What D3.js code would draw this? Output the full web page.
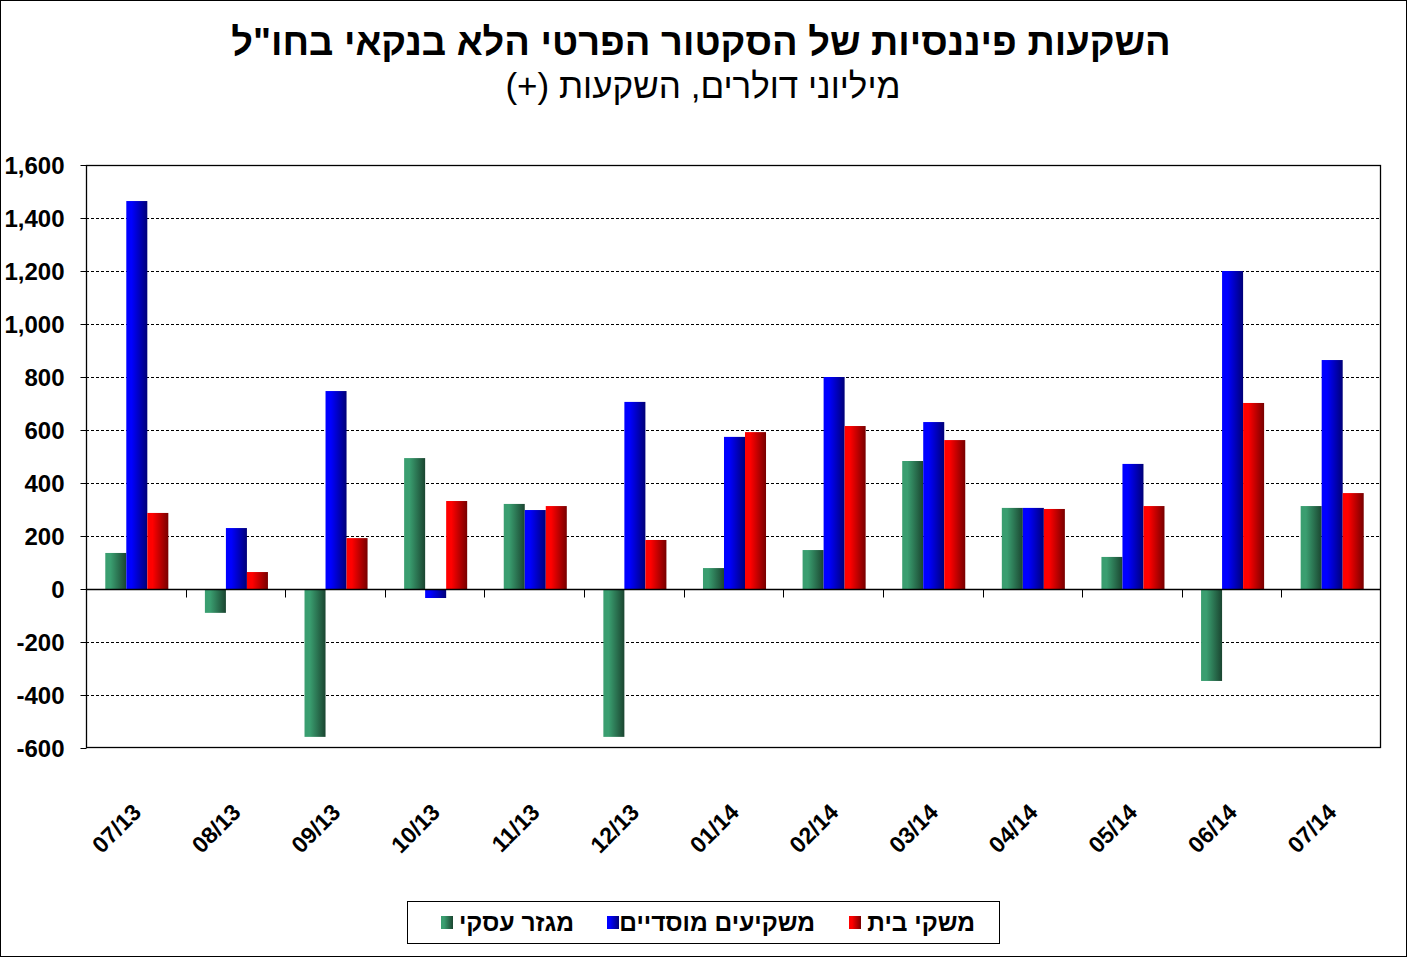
<!DOCTYPE html>
<html><head><meta charset="utf-8">
<script src="https://cdn.jsdelivr.net/npm/d3@7"></script>
<style>body{margin:0;background:#fff}svg{display:block}</style>
</head><body>
<script>
const categories = ["07/13","08/13","09/13","10/13","11/13","12/13","01/14","02/14","03/14","04/14","05/14","06/14","07/14"];
const business = [136,-90,-558,494,321,-558,79,147,483,306,121,-347,313];
const institutional = [1464,230,747,-34,298,706,574,800,630,306,472,1200,864];
const households = [287,64,192,332,313,185,592,615,562,302,313,702,362];
const seriesNames = ["מגזר עסקי","משקיעים מוסדיים","משקי בית"];
const yTicks = [-600,-400,-200,0,200,400,600,800,1000,1200,1400,1600];

const W=1407,H=957;
const m={l:86,r:1381,t:165,b:748};
const svg=d3.select("body").append("svg").attr("width",W).attr("height",H);
const defs=svg.append("defs");
const grads=[["gG","#3a9e70","#1a4530"],["gB","#0000ff","#000078"],["gR","#ff0000","#780000"]];
grads.forEach(([id,a,b])=>{
  const g=defs.append("linearGradient").attr("id",id).attr("x1","0").attr("x2","1").attr("y1","0").attr("y2","0");
  g.append("stop").attr("offset","0%").attr("stop-color",a);
  g.append("stop").attr("offset","25%").attr("stop-color",a);
  g.append("stop").attr("offset","100%").attr("stop-color",b);
});
svg.append("rect").attr("x",0.5).attr("y",0.5).attr("width",W-1).attr("height",H-1).attr("fill","#fff").attr("stroke","#000");

const font="'Liberation Sans', Arial, sans-serif";
svg.append("text").attr("x",701).attr("y",55).attr("text-anchor","middle").attr("font-family",font).attr("font-weight","bold").attr("font-size",38).attr("direction","rtl").text('השקעות פיננסיות של הסקטור הפרטי הלא בנקאי בחו"ל');
svg.append("text").attr("x",703).attr("y",98).attr("text-anchor","middle").attr("font-family",font).attr("font-size",35).attr("direction","rtl").text('מיליוני דולרים, השקעות (+)');

const x=d3.scaleBand().domain(categories).range([m.l,m.r]).paddingInner(0).paddingOuter(0);
const y=d3.scaleLinear().domain([-600,1600]).range([m.b,m.t]);

// grid
svg.append("g").selectAll("line").data(yTicks.filter(d=>d!==-600&&d!==1600&&d!==0)).join("line")
 .attr("x1",m.l).attr("x2",m.r).attr("y1",d=>Math.round(y(d))+0.5).attr("y2",d=>Math.round(y(d))+0.5)
 .attr("stroke","#000").attr("stroke-dasharray","3,2").attr("stroke-width",1);

// bars
const inner=d3.scaleBand().domain([0,1,2]).range([0,x.bandwidth()]).paddingInner(0).paddingOuter(0.87);
const data=[business,institutional,households];
const fills=["url(#gG)","url(#gB)","url(#gR)"];
data.forEach((arr,si)=>{
  svg.append("g").selectAll("rect").data(arr).join("rect")
   .attr("x",(d,i)=>x(categories[i])+inner(si)+1)
   .attr("width",inner.bandwidth())
   .attr("y",d=>y(Math.max(0,d)))
   .attr("height",d=>Math.abs(y(d)-y(0)))
   .attr("fill",fills[si]);
});

// frame
svg.append("rect").attr("x",m.l+0.5).attr("y",m.t+0.5).attr("width",m.r-m.l-1).attr("height",m.b-m.t-1).attr("fill","none").attr("stroke","#000").attr("stroke-width",1.3);

// y axis
const fmt=d3.format(",");
const ya=svg.append("g").attr("transform",`translate(${m.l+0.5},0)`).call(d3.axisLeft(y).tickValues(yTicks).tickSize(6).tickFormat(d=>fmt(d).replace("\u2212","-")));
ya.select(".domain").remove();
ya.selectAll("line").attr("stroke","#000");
ya.selectAll("text").attr("font-family",font).attr("font-weight","bold").attr("font-size",24).attr("fill","#000").attr("x",-22).attr("dy","0.35em");

// zero axis line with ticks
const zy=Math.round(y(0))+0.5;
svg.append("line").attr("x1",m.l).attr("x2",m.r).attr("y1",zy).attr("y2",zy).attr("stroke","#000").attr("stroke-width",1.5);
svg.append("g").selectAll("line").data(categories.slice(1)).join("line")
 .attr("x1",d=>Math.round(x(d))+0.5).attr("x2",d=>Math.round(x(d))+0.5).attr("y1",zy).attr("y2",zy+8).attr("stroke","#000");

// x labels
svg.append("g").selectAll("text").data(categories).join("text")
 .attr("transform",d=>`translate(${x(d)+x.bandwidth()/2-5},${802}) rotate(-45)`)
 .attr("text-anchor","end").attr("dy","0.72em").attr("font-family",font).attr("font-weight","bold").attr("font-size",23).text(d=>d);

// legend
svg.append("rect").attr("x",407.5).attr("y",901.5).attr("width",592).attr("height",42).attr("fill","#fff").attr("stroke","#000");
const legItems=[{si:2,sx:849,tx:975},{si:1,sx:607,tx:815},{si:0,sx:441,tx:574}];
legItems.forEach(it=>{
  svg.append("rect").attr("x",it.sx).attr("y",916).attr("width",12).attr("height",13).attr("fill",fills[it.si]);
  svg.append("text").attr("x",it.tx).attr("y",931).attr("text-anchor","start").attr("direction","rtl").attr("font-family",font).attr("font-weight","bold").attr("font-size",24.5).text(seriesNames[it.si]);
});
</script>
</body></html>
